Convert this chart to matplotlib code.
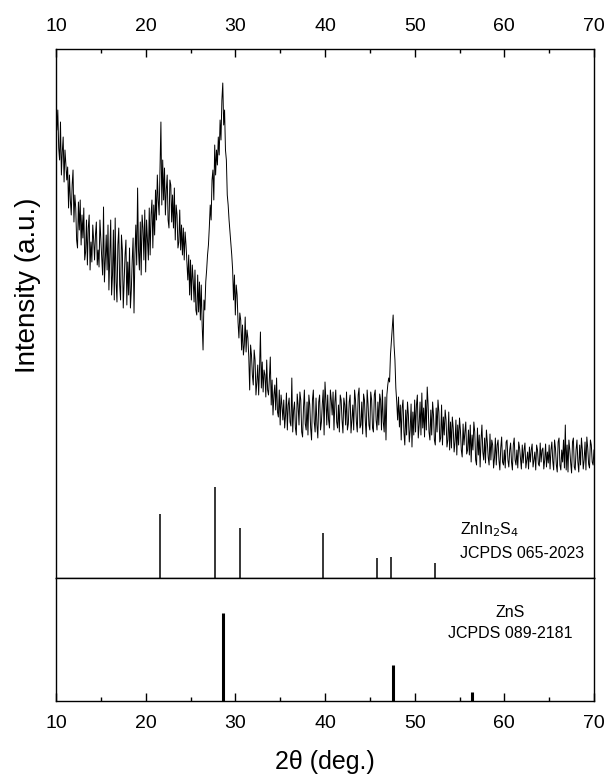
import numpy as np
import matplotlib
matplotlib.use("Agg")
import matplotlib.pyplot as plt
from matplotlib.ticker import MultipleLocator

plt.rcParams['font.family'] = ['Liberation Sans', 'DejaVu Sans']

# ---------------- data ----------------
theta_start, theta_step = 10.0, 0.1
intensity = [
    485, 470, 490, 452, 440, 478, 425, 448, 463, 418,
    450, 436, 420, 433, 392, 425, 400, 385, 415, 430,
    378, 405, 392, 360, 352, 398, 370, 400, 355, 385,
    362, 392, 340, 348, 380, 335, 372, 385, 330, 358,
    338, 375, 360, 340, 365, 378, 335, 350, 333, 380,
    360, 342, 325, 393, 318, 340, 365, 330, 375, 310,
    345, 380, 305, 325, 370, 300, 382, 318, 298, 355,
    372, 315, 300, 365, 350, 292, 320, 345, 360, 295,
    338, 305, 352, 292, 310, 340, 362, 287, 345, 375,
    335, 412, 350, 330, 378, 325, 385, 372, 340, 390,
    328, 380, 360, 340, 392, 345, 385, 400, 352, 395,
    365, 410, 380, 425, 400, 385, 430, 478, 395, 440,
    400, 432, 385, 410, 425, 380, 372, 420, 415, 378,
    405, 372, 412, 360, 395, 385, 352, 358, 390, 350,
    375, 345, 372, 340, 368, 355, 338, 320, 345, 305,
    340, 300, 335, 320, 298, 330, 290, 285, 325, 288,
    318, 280, 315, 275, 250, 300, 290, 318, 330, 345,
    355, 373, 395, 380, 420, 430, 400, 455, 425, 450,
    435, 463, 445, 480, 460, 500, 517, 475, 490, 450,
    440, 405, 395, 380, 368, 355, 345, 330, 300, 325,
    285, 315, 305, 278, 262, 287, 280, 250, 275, 245,
    255, 283, 248, 270, 262, 243, 210, 255, 245, 225,
    215, 250, 240, 205, 218, 235, 205, 232, 268, 212,
    238, 208, 230, 225, 203, 240, 210, 205, 222, 243,
    195, 220, 185, 205, 215, 190, 222, 188, 183, 210,
    175, 205, 195, 180, 200, 172, 185, 207, 170, 195,
    202, 178, 174, 222, 168, 190, 198, 172, 165, 206,
    195, 175, 208, 200, 168, 163, 192, 210, 176, 170,
    198, 165, 205, 195, 172, 160, 200, 210, 178, 168,
    202, 175, 162, 198, 205, 170, 178, 196, 210, 165,
    218, 200, 175, 205, 180, 172, 210, 200, 185, 208,
    170, 198, 210, 178, 172, 195, 168, 205, 200, 180,
    167, 202, 195, 175, 208, 170, 176, 198, 205, 167,
    180, 195, 170, 210, 200, 178, 168, 205, 212, 172,
    175, 198, 166, 206, 200, 178, 163, 210, 196, 175,
    170, 208, 200, 172, 168, 205, 210, 180, 170, 198,
    175, 206, 200, 170, 210, 178, 168, 203, 160, 205,
    215, 222, 218, 245, 258, 270, 285, 255, 240, 212,
    198, 180, 203, 173, 195, 160, 192, 200, 168, 155,
    190, 165, 198, 185, 158, 170, 196, 153, 188, 165,
    200, 168, 195, 205, 162, 175, 198, 165, 207, 172,
    192, 163, 200, 170, 213, 195, 168, 160, 190, 165,
    198, 185, 160, 155, 192, 168, 200, 188, 158, 162,
    195, 155, 183, 165, 190, 180, 153, 160, 188, 150,
    178, 152, 183, 172, 148, 158, 180, 145, 175, 155,
    182, 170, 150, 143, 176, 155, 168, 178, 146, 150,
    170, 145, 175, 138, 165, 150, 178, 168, 140, 135,
    172, 145, 165, 133, 160, 175, 148, 140, 162, 137,
    170, 158, 143, 135, 166, 140, 160, 155, 132, 142,
    162, 135, 155, 160, 140, 130, 152, 163, 138, 135,
    150, 132, 158, 160, 140, 133, 150, 157, 138, 130,
    155, 162, 140, 135, 150, 132, 158, 152, 142, 131,
    155, 137, 150, 157, 132, 140, 148, 131, 153, 138,
    150, 156, 133, 140, 148, 130, 155, 150, 136, 134,
    157, 138, 150, 152, 131, 140, 156, 133, 148, 137,
    155, 131, 150, 158, 139, 130, 160, 152, 135, 128,
    158, 162, 135, 130, 150, 138, 160, 132, 175, 130,
    155, 128, 160, 150, 137, 127, 158, 162, 133, 130,
    150, 160, 138, 128, 155, 135, 162, 150, 131, 140,
    158, 130, 163, 152, 136, 132, 160, 155, 138, 135,
    150,
]
two_theta = theta_start + theta_step * np.arange(len(intensity))

znin2s4_pos = [21.64, 27.71, 30.48, 39.80, 45.78, 47.35, 52.28]
znin2s4_int = [70, 100, 55, 49, 22, 23, 16]

zns_pos = [28.57, 47.58, 56.43]
zns_int = [100, 41, 10]

xticks = [10, 20, 30, 40, 50, 60, 70]

# ---------------- figure ----------------
W, H = 611, 778
fig = plt.figure(figsize=(W / 100, H / 100), dpi=100)

L, R = 56 / W, 594 / W
top_y0, top_y1 = 1 - 578 / H, 1 - 49 / H
bot_y0, bot_y1 = 1 - 701 / H, 1 - 578 / H

ax = fig.add_axes([L, top_y0, R - L, top_y1 - top_y0])
axb = fig.add_axes([L, bot_y0, R - L, bot_y1 - bot_y0], sharex=ax)

ax.plot(two_theta, intensity, color='black', lw=0.7)
ax.set_xlim(10, 70)
ax.set_ylim(22, 551)

# reference sticks for ZnIn2S4 in the lower part of the top panel
axs = ax.twinx()
axs.vlines(znin2s4_pos, 0, znin2s4_int, color='black', lw=1.1)
axs.set_ylim(0, 581)
axs.set_yticks([])
for s in axs.spines.values():
    s.set_visible(False)

axb.vlines(zns_pos, 0, zns_int, color='black', lw=2.2)
axb.set_ylim(0, 139)

for a in (ax, axb):
    a.set_yticks([])
    for s in a.spines.values():
        s.set_linewidth(1.0)
    a.xaxis.set_major_locator(MultipleLocator(10))
    a.xaxis.set_minor_locator(MultipleLocator(5))

ax.tick_params(axis='x', which='both', direction='in', top=True, bottom=False,
               labeltop=True, labelbottom=False, labelsize=14, pad=10)
ax.tick_params(axis='x', which='major', length=6, width=1.0)
ax.tick_params(axis='x', which='minor', length=3, width=1.0)

axb.tick_params(axis='x', which='both', direction='in', top=False, bottom=True,
                labeltop=False, labelbottom=True, labelsize=14, pad=10)
axb.tick_params(axis='x', which='major', length=6, width=1.0)
axb.tick_params(axis='x', which='minor', length=3, width=1.0)
axb.set_xticks(xticks)

ax.set_ylabel('Intensity (a.u.)', fontsize=20)
ax.yaxis.set_label_coords(-0.052, 0.554)
axb.set_xlabel('2\u03b8 (deg.)', fontsize=18)
axb.xaxis.set_label_coords(0.5, -(762 - 701) / 123)
axb.xaxis.label.set_va('center')
ax.yaxis.label.set_va('center')

ax.text(55.1, 0.091, 'ZnIn$_2$S$_4$', transform=ax.get_xaxis_transform(),
        fontsize=11.5, ha='left', va='center')
ax.text(55.1, 0.047, 'JCPDS 065-2023', transform=ax.get_xaxis_transform(),
        fontsize=11.5, ha='left', va='center')

axb.text(60.7, 0.72, 'ZnS', transform=axb.get_xaxis_transform(),
         fontsize=11.5, ha='center', va='center')
axb.text(60.7, 0.55, 'JCPDS 089-2181', transform=axb.get_xaxis_transform(),
         fontsize=11.5, ha='center', va='center')

fig.savefig('out.png', dpi=100)
